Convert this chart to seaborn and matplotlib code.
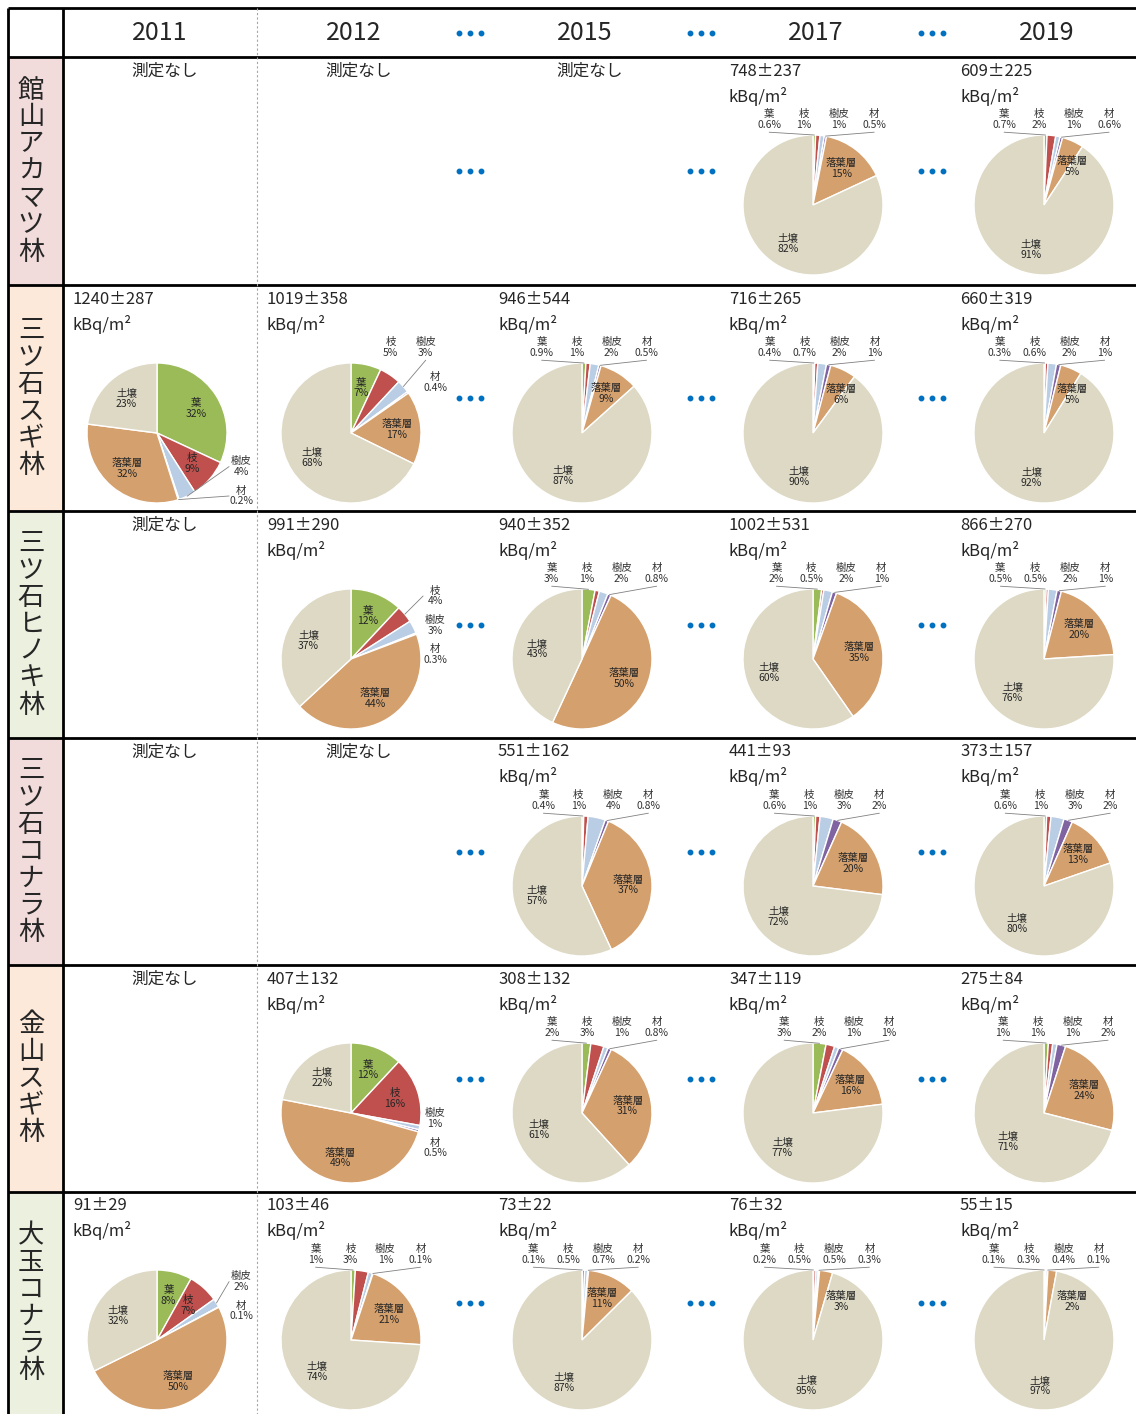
import numpy as np
import seaborn as sns
import matplotlib.pyplot as plt
from matplotlib.patches import Rectangle

# Cs-137 inventory by forest compartment (kBq/m2 and share in %)
years = ['2011', '2012', '2015', '2017', '2019']
parts = ['葉', '枝', '樹皮', '材', '落葉層', '土壌']
sites = ['館山アカマツ林', '三ツ石スギ林', '三ツ石ヒノキ林', '三ツ石コナラ林', '金山スギ林', '大玉コナラ林']

tateyama_total = [None, None, None, '748±237', '609±225']
tateyama_pct = [None, None, None,
                [0.6, 1, 1, 0.5, 15, 82],
                [0.7, 2, 1, 0.6, 5, 91]]

mitsuishi_sugi_total = ['1240±287', '1019±358', '946±544', '716±265', '660±319']
mitsuishi_sugi_pct = [[32, 9, 4, 0.2, 32, 23],
                      [7, 5, 3, 0.4, 17, 68],
                      [0.9, 1, 2, 0.5, 9, 87],
                      [0.4, 0.7, 2, 1, 6, 90],
                      [0.3, 0.6, 2, 1, 5, 92]]

mitsuishi_hinoki_total = [None, '991±290', '940±352', '1002±531', '866±270']
mitsuishi_hinoki_pct = [None,
                        [12, 4, 3, 0.3, 44, 37],
                        [3, 1, 2, 0.8, 50, 43],
                        [2, 0.5, 2, 1, 35, 60],
                        [0.5, 0.5, 2, 1, 20, 76]]

mitsuishi_konara_total = [None, None, '551±162', '441±93', '373±157']
mitsuishi_konara_pct = [None, None,
                        [0.4, 1, 4, 0.8, 37, 57],
                        [0.6, 1, 3, 2, 20, 72],
                        [0.6, 1, 3, 2, 13, 80]]

kanayama_total = [None, '407±132', '308±132', '347±119', '275±84']
kanayama_pct = [None,
                [12, 16, 1, 0.5, 49, 22],
                [2, 3, 1, 0.8, 31, 61],
                [3, 2, 1, 1, 16, 77],
                [1, 1, 1, 2, 24, 71]]

otama_total = ['91±29', '103±46', '73±22', '76±32', '55±15']
otama_pct = [[8, 7, 2, 0.1, 50, 32],
             [1, 3, 1, 0.1, 21, 74],
             [0.1, 0.5, 0.7, 0.2, 11, 87],
             [0.2, 0.5, 0.5, 0.3, 3, 95],
             [0.1, 0.3, 0.4, 0.1, 2, 97]]

site_totals = [tateyama_total, mitsuishi_sugi_total, mitsuishi_hinoki_total,
               mitsuishi_konara_total, kanayama_total, otama_total]
site_pcts = [tateyama_pct, mitsuishi_sugi_pct, mitsuishi_hinoki_pct,
             mitsuishi_konara_pct, kanayama_pct, otama_pct]

sns.set_theme(style='white')
plt.rcParams['font.family'] = ['Noto Sans CJK JP', 'DejaVu Sans']

part_colors = sns.color_palette(['#9BBB59', '#C0504D', '#B9CDE5', '#8064A2', '#D4A06E', '#DDD9C4'])
site_bg = ['#F2DCDB', '#FDE9D9', '#EBF1DE', '#F2DCDB', '#FDE9D9', '#EBF1DE']

W, H = 1136, 1414
row_tops = [57, 285, 511, 738, 965, 1192]
row_bots = row_tops[1:] + [H]
col_lefts = [63, 257, 488, 719, 950]
R = 70
LFS = 7.5  # pie label font size

fig = plt.figure(figsize=(W / 100, H / 100), dpi=100)
bg = fig.add_axes([0, 0, 1, 1])
bg.set_xlim(0, W)
bg.set_ylim(H, 0)
bg.axis('off')


def fmt(v):
    return f'{v:.1f}%' if v < 1 else f'{v:.0f}%'


def spread(pos, d, lo=None, hi=None):
    p = list(pos)
    for _ in range(300):
        for j in range(len(p) - 1):
            gap = p[j + 1] - p[j]
            if gap < d:
                s = (d - gap) / 2
                p[j] -= s
                p[j + 1] += s
    if lo is not None and p[0] < lo:
        p = [q + lo - p[0] for q in p]
    if hi is not None and p[-1] > hi:
        p = [q - (p[-1] - hi) for q in p]
    return p


def draw_pie(ax, vals):
    v = np.array(vals, float)
    ax.pie(v, colors=part_colors, startangle=90, counterclock=False, radius=1,
           wedgeprops=dict(edgecolor='white', linewidth=1))
    ax.set_xlim(-1, 1)
    ax.set_ylim(-1, 1)
    ax.set_aspect('equal')
    ax.axis('off')

    frac = v / v.sum()
    mid = np.deg2rad((np.cumsum(frac) - frac / 2) * 360)
    top, side = [], []
    for i, name in enumerate(parts):
        txt = f'{name}\n{fmt(vals[i])}'
        sx, sy = np.sin(mid[i]), np.cos(mid[i])
        if i >= 4 or vals[i] >= 7:
            if i == 4 and vals[i] < 8:
                x, y = 0.4, 0.55
            else:
                x, y = 0.66 * sx, 0.66 * sy
            ax.text(x, y, txt, ha='center', va='center', fontsize=LFS,
                    linespacing=1.1, color='#262626')
        else:
            nx, ny = 1.25 * sx, 1.25 * sy
            (top if ny > 0.8 else side).append((txt, nx, ny, sx, sy))

    if top:
        xs = spread([t[1] for t in top], 0.5)
        for (txt, nx, ny, sx, sy), x in zip(top, xs):
            ax.text(x, 1.22, txt, ha='center', va='center', fontsize=LFS,
                    linespacing=1.1, color='#333333')
            if abs(x - sx) > 0.3:
                ax.plot([sx, x], [sy, 1.04], color='#808080', lw=0.6, clip_on=False)
    if side:
        side = sorted(side, key=lambda t: t[2])
        ys = spread([np.clip(t[2], -0.9, 0.9) for t in side], 0.42, lo=-0.9, hi=0.9)
        for (txt, nx, ny, sx, sy), y in zip(side, ys):
            x = 1.2 if sx >= 0 else -1.2
            ax.text(x, y, txt, ha='center', va='center', fontsize=LFS,
                    linespacing=1.1, color='#333333')
            if np.hypot(x - sx, y - sy) > 0.45:
                ax.plot([sx, x - 0.17 * np.sign(x)], [sy, y], color='#808080',
                        lw=0.6, clip_on=False)


# site label column backgrounds
for r, (top, bot) in enumerate(zip(row_tops, row_bots)):
    bg.add_patch(Rectangle((8, top), 55, bot - top, color=site_bg[r], zorder=0))

# table lines
bg.hlines([8] + row_tops, 8, W, color='black', lw=2)
bg.vlines([8, 63], 8, H, color='black', lw=2)
bg.vlines(257, 8, H, color='#a6a6a6', lw=0.8, linestyles=(0, (2, 2)))

# year header
for c, yr in enumerate(years):
    bg.text(col_lefts[c] + 97, 33, yr, ha='center', va='center', fontsize=18)

# site names, vertical
for r, name in enumerate(sites):
    mid_y = (row_tops[r] + row_bots[r]) / 2
    n = len(name)
    for k, ch in enumerate(name):
        bg.text(31, mid_y + (k - (n - 1) / 2) * 27, ch, ha='center', va='center', fontsize=19)

# blue ellipsis dots between non-consecutive years
for c in [1, 2, 3]:
    x = col_lefts[c] + 213
    for y in [33] + [(a + b) / 2 for a, b in zip(row_tops, row_bots)]:
        bg.plot([x - 11, x, x + 11], [y] * 3, 'o', ms=3.2, color='#0070C0')

# cells
for r in range(len(sites)):
    for c in range(len(years)):
        tot = site_totals[r][c]
        pct = site_pcts[r][c]
        x0, y0 = col_lefts[c], row_tops[r]
        if pct is None:
            bg.text(x0 + 102, y0 + 14, '測定なし', ha='center', va='center', fontsize=12)
            continue
        bg.text(x0 + 10, y0 + 14, tot, ha='left', va='center', fontsize=12)
        bg.text(x0 + 10, y0 + 39, 'kBq/m²', ha='left', va='center', fontsize=12)
        cx, cy = x0 + 94, y0 + 148
        ax = fig.add_axes([(cx - R) / W, 1 - (cy + R) / H, 2 * R / W, 2 * R / H])
        draw_pie(ax, pct)

fig.savefig('out.png', dpi=100)
